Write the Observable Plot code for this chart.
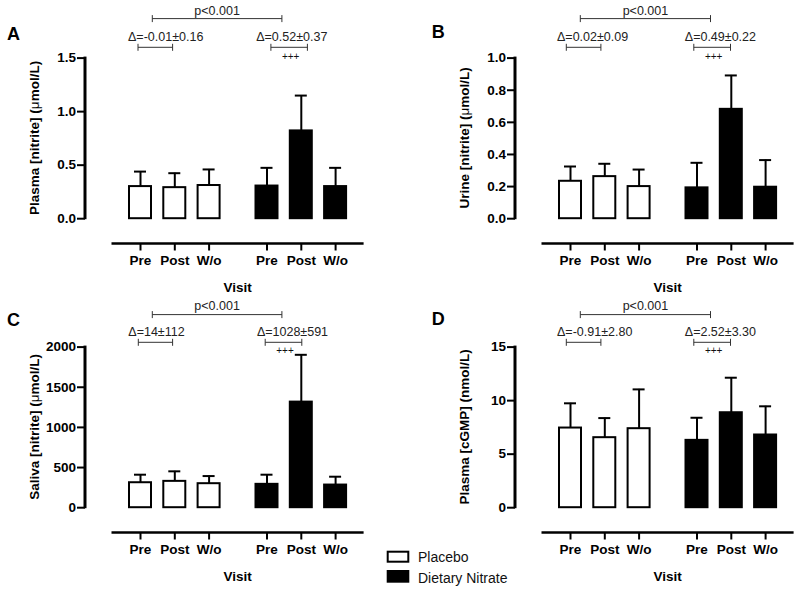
<!DOCTYPE html>
<html>
<head>
<meta charset="utf-8">
<script src="https://cdn.jsdelivr.net/npm/d3@7"></script>
<script src="https://cdn.jsdelivr.net/npm/@observablehq/plot@0.6"></script>
<style>
html,body{margin:0;padding:0;background:#fff;}
#fig{position:relative;width:800px;height:590px;overflow:hidden;background:#fff;}
#fig > svg{position:absolute;}
</style>
</head>
<body>
<div id="fig"></div>
<script>
// ---------------- data ----------------
const visits = ["Pre", "Post", "W/o"];
const groups = ["Placebo", "Dietary Nitrate"];

// A: plasma nitrite (µmol/L), mean and SD
const plasmaNitritePlaceboMean = [0.30, 0.29, 0.31];
const plasmaNitritePlaceboSD   = [0.14, 0.135, 0.15];
const plasmaNitriteNitrateMean = [0.305, 0.82, 0.30];
const plasmaNitriteNitrateSD   = [0.17, 0.33, 0.175];
const plasmaNitriteTicks = [0, 0.5, 1.0, 1.5];

// B: urine nitrite (µmol/L)
const urineNitritePlaceboMean = [0.233, 0.262, 0.20];
const urineNitritePlaceboSD   = [0.092, 0.080, 0.106];
const urineNitriteNitrateMean = [0.192, 0.681, 0.196];
const urineNitriteNitrateSD   = [0.156, 0.211, 0.169];
const urineNitriteTicks = [0, 0.2, 0.4, 0.6, 0.8, 1.0];

// C: saliva nitrite (µmol/L)
const salivaNitritePlaceboMean = [311, 328, 299];
const salivaNitritePlaceboSD   = [100, 125, 95];
const salivaNitriteNitrateMean = [291, 1315, 282];
const salivaNitriteNitrateSD   = [120, 589, 104];
const salivaNitriteTicks = [0, 500, 1000, 1500, 2000];

// D: plasma cGMP (nmol/L)
const plasmaCgmpPlaceboMean = [7.44, 6.54, 7.38];
const plasmaCgmpPlaceboSD   = [2.31, 1.83, 3.67];
const plasmaCgmpNitrateMean = [6.29, 8.87, 6.79];
const plasmaCgmpNitrateSD   = [2.11, 3.27, 2.68];
const plasmaCgmpTicks = [0, 5, 10, 15];

const deltaPlacebo = ["Δ=-0.01±0.16", "Δ=0.02±0.09", "Δ=14±112", "Δ=-0.91±2.80"];
const deltaNitrate = ["Δ=0.52±0.37", "Δ=0.49±0.22", "Δ=1028±591", "Δ=2.52±3.30"];
const pLabel = "p<0.001";
const signifLabel = "+++";
const panelLetters = ["A", "B", "C", "D"];
const yTitles = [
  ["Plasma [nitrite] (", "μ", "mol/L)"],
  ["Urine [nitrite] (", "μ", "mol/L)"],
  ["Saliva [nitrite] (", "μ", "mol/L)"],
  ["Plasma [cGMP] (nmol/L)", "", ""]
];
const xTitle = "Visit";
const legendLabels = ["Placebo", "Dietary Nitrate"];

// ---------------- layout ----------------
const FONT = "'Liberation Sans', Arial, Helvetica, sans-serif";
const PW = 370, PH = 300;
const FRAME_TOP = 57.6, FRAME_BOTTOM = 218.2;
const AXIS_X = 85;
const FIRST_C = 140, STEP = 34.3, GROUP_STEP = 126.5, BW = 22, PO_X = 0.3;
const PI_X = 1 - BW / STEP;
const FACET_W = STEP * (3 - PI_X + 2 * PO_X);
const ML = FIRST_C - PO_X * STEP - BW / 2;
const PI_F = 1 - FACET_W / GROUP_STEP;
const FX_END = ML + GROUP_STEP * (2 - PI_F);

const annotAB = {pText: -43, pBr: -39, dText: -16.3, dBr: -10.3, plus: 2};
const annotCD = {pText: -36.5, pBr: -32, dText: -11, dBr: -4.3, plus: 7.3};

const panels = [
  {left: 0, top: 0, mean: [plasmaNitritePlaceboMean, plasmaNitriteNitrateMean], sd: [plasmaNitritePlaceboSD, plasmaNitriteNitrateSD],
   ticks: plasmaNitriteTicks, format: d3.format(".1f"), annot: annotAB,
   p: [12.3, 15.4], dP: [-2, -1.7], dN: [4.4, 6.6], tP: -12, tN: -10.3, letter: [7, 40]},
  {left: 430, top: 0, mean: [urineNitritePlaceboMean, urineNitriteNitrateMean], sd: [urineNitritePlaceboSD, urineNitriteNitrateSD],
   ticks: urineNitriteTicks, format: d3.format(".1f"), annot: annotAB,
   p: [10.3, 14], dP: [-3.7, -3.4], dN: [-2.7, -0.3], tP: -13, tN: -11.7, letter: [1.7, 37.5]},
  {left: 0, top: 288.7, mean: [salivaNitritePlaceboMean, salivaNitriteNitrateMean], sd: [salivaNitritePlaceboSD, salivaNitriteNitrateSD],
   ticks: salivaNitriteTicks, format: d3.format("d"), annot: annotCD,
   p: [12.3, 15.4], dP: [-1.7, -1.7], dN: [-1.3, 1], tP: -11.7, tN: -9.6, letter: [7, 36.5]},
  {left: 430, top: 288.7, mean: [plasmaCgmpPlaceboMean, plasmaCgmpNitrateMean], sd: [plasmaCgmpPlaceboSD, plasmaCgmpNitrateSD],
   ticks: plasmaCgmpTicks, format: d3.format("d"), annot: annotCD,
   p: [10.3, 14], dP: [-3.7, -3.4], dN: [-2.7, -0.3], tP: -13, tN: -11.7, letter: [1.7, 35.5]}
];

const fig = document.getElementById("fig");

panels.forEach((cfg, i) => {
  const rows = [];
  groups.forEach((g, gi) => visits.forEach((v, vi) => {
    const mean = cfg.mean[gi][vi];
    rows.push({group: g, visit: v, mean, top: mean + cfg.sd[gi][vi]});
  }));
  const domain = [0, cfg.ticks[cfg.ticks.length - 1]];
  const chart = Plot.plot({
    width: PW, height: PH,
    marginTop: FRAME_TOP, marginBottom: PH - FRAME_BOTTOM,
    marginLeft: ML, marginRight: PW - FX_END,
    style: {background: "transparent", fontFamily: FONT, color: "#000", overflow: "visible"},
    fx: {domain: groups, paddingInner: PI_F, paddingOuter: 0, round: false, axis: null, label: null},
    x: {domain: visits, paddingInner: PI_X, paddingOuter: PO_X, round: false, axis: null, label: null},
    y: {domain, axis: null, label: null},
    marks: [
      Plot.barY(rows.filter(d => d.group === groups[0]), {fx: "group", x: "visit", y: "mean", fill: "#fff", stroke: "#000", strokeWidth: 2}),
      Plot.barY(rows.filter(d => d.group === groups[1]), {fx: "group", x: "visit", y: "mean", fill: "#000", stroke: "#000", strokeWidth: 2}),
      Plot.ruleX(rows, {fx: "group", x: "visit", y1: "mean", y2: "top", stroke: "#000", strokeWidth: 2}),
      Plot.tickY(rows, {fx: "group", x: "visit", y: "top", stroke: "#000", strokeWidth: 2, insetLeft: (BW - 12) / 2, insetRight: (BW - 12) / 2}),
      Plot.axisY(cfg.ticks, {tickFormat: cfg.format, tickSize: 8, tickPadding: 1.5, dx: AXIS_X - ML, strokeWidth: 2,
        fontSize: 13.5, fontWeight: "bold", fill: "#000", stroke: "#000", label: null}),
      Plot.axisX({dy: 25.3, tickSize: 7, tickPadding: 4.5, strokeWidth: 2, fontSize: 13.5, fontWeight: "bold", fill: "#000", stroke: "#000", label: null})
    ]
  });
  chart.style.left = cfg.left + "px";
  chart.style.top = cfg.top + "px";
  fig.appendChild(chart);

  const fxs = chart.scale("fx"), xs = chart.scale("x"), ys = chart.scale("y");
  const cx = (g, v) => fxs.apply(g) + xs.apply(v) - xs.range[0] + xs.bandwidth / 2;
  const y0 = ys.apply(0), yTop = ys.apply(domain[1]);
  const a = cfg.annot;
  const svg = d3.select(chart);
  const g = svg.append("g").attr("font-family", FONT).attr("text-anchor", "start");

  // y axis line
  g.append("line").attr("x1", AXIS_X).attr("x2", AXIS_X).attr("y1", y0 + 1).attr("y2", yTop - 1)
    .attr("stroke", "#000").attr("stroke-width", 3);
  // x axis line
  const xl1 = cx(groups[0], visits[0]) - 28.5, xl2 = cx(groups[1], visits[2]) + 28.5;
  g.append("line").attr("x1", xl1).attr("x2", xl2).attr("y1", y0 + 25.3).attr("y2", y0 + 25.3)
    .attr("stroke", "#000").attr("stroke-width", 2.5);
  g.append("text").attr("x", (xl1 + xl2) / 2).attr("y", y0 + 73.5).attr("text-anchor", "middle")
    .attr("font-size", 13.5).attr("font-weight", "bold").text(xTitle);

  const bracket = (x1, x2, y) => {
    g.append("path").attr("d", `M${x1},${y}H${x2}M${x1},${y - 3.5}V${y + 3.5}M${x2},${y - 3.5}V${y + 3.5}`)
      .attr("stroke", "#333").attr("stroke-width", 1).attr("fill", "none");
  };
  // p bracket
  const px1 = cx(groups[0], visits[0]) + cfg.p[0], px2 = cx(groups[1], visits[0]) + cfg.p[1];
  bracket(px1, px2, yTop + a.pBr);
  g.append("text").attr("x", (px1 + px2) / 2).attr("y", yTop + a.pText).attr("text-anchor", "middle")
    .attr("font-size", 12.5).attr("fill", "#222").text(pLabel);
  // placebo delta
  const dx1 = cx(groups[0], visits[0]) + cfg.dP[0], dx2 = cx(groups[0], visits[1]) + cfg.dP[1];
  bracket(dx1, dx2, yTop + a.dBr);
  g.append("text").attr("x", cx(groups[0], visits[0]) + cfg.tP).attr("y", yTop + a.dText)
    .attr("text-anchor", "start").attr("font-size", 12.5).attr("fill", "#222").text(deltaPlacebo[i]);
  // nitrate delta
  const nx1 = cx(groups[1], visits[0]) + cfg.dN[0], nx2 = cx(groups[1], visits[1]) + cfg.dN[1];
  bracket(nx1, nx2, yTop + a.dBr);
  g.append("text").attr("x", cx(groups[1], visits[0]) + cfg.tN).attr("y", yTop + a.dText)
    .attr("text-anchor", "start").attr("font-size", 12.5).attr("fill", "#222").text(deltaNitrate[i]);
  g.append("text").attr("x", (nx1 + nx2) / 2 + 1.5).attr("y", yTop + a.plus).attr("text-anchor", "middle")
    .attr("font-size", 10).attr("fill", "#111").text(signifLabel);

  // y title
  const t = g.append("text").attr("transform", `translate(34,${(y0 + yTop) / 2}) rotate(-90)`)
    .attr("text-anchor", "middle").attr("dy", "0.35em").attr("font-size", 13.5).attr("font-weight", "bold");
  t.append("tspan").text(yTitles[i][0]);
  if (yTitles[i][1]) t.append("tspan").attr("font-weight", "normal").text(yTitles[i][1]);
  if (yTitles[i][2]) t.append("tspan").text(yTitles[i][2]);

  // panel letter
  g.append("text").attr("x", cfg.letter[0]).attr("y", cfg.letter[1]).attr("text-anchor", "start").attr("font-size", 18)
    .attr("font-weight", "bold").text(panelLetters[i]);
});

// legend
const leg = d3.select(fig).append("svg").attr("width", 800).attr("height", 590)
  .style("left", "0px").style("top", "0px").attr("font-family", FONT);
leg.append("rect").attr("x", 387.7).attr("y", 551.7).attr("width", 20.6).attr("height", 10)
  .attr("fill", "#fff").attr("stroke", "#000").attr("stroke-width", 2);
leg.append("rect").attr("x", 386.7).attr("y", 570).attr("width", 22.6).attr("height", 12.7).attr("fill", "#000");
leg.append("text").attr("x", 418).attr("y", 562.3).attr("font-size", 14).attr("fill", "#111").text(legendLabels[0]);
leg.append("text").attr("x", 418).attr("y", 582.5).attr("font-size", 14).attr("fill", "#111").text(legendLabels[1]);
</script>
</body>
</html>
